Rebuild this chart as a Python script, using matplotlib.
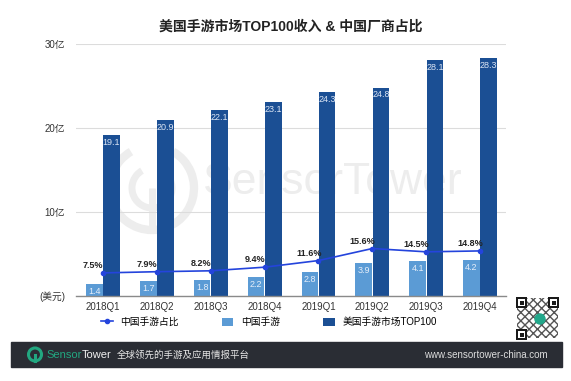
import numpy as np
import matplotlib

matplotlib.use("Agg")
import matplotlib.pyplot as plt
from matplotlib.patches import Rectangle, Circle, Arc
from matplotlib.text import Annotation

plt.rcParams["font.family"] = ["Liberation Sans", "Noto Sans CJK SC"]

quarters = ["2018Q1", "2018Q2", "2018Q3", "2018Q4", "2019Q1", "2019Q2", "2019Q3", "2019Q4"]
china_rev = [1.4, 1.7, 1.8, 2.2, 2.8, 3.9, 4.1, 4.2]
us_top100 = [19.1, 20.9, 22.1, 23.1, 24.3, 24.8, 28.1, 28.3]
china_share = [7.5, 7.9, 8.2, 9.4, 11.6, 15.6, 14.5, 14.8]
y_ticks = [0, 10, 20, 30]
y_labels = ["(美元)", "10亿", "20亿", "30亿"]

DARK = "#1b4f94"
LIGHT = "#5b9bd5"
LINE = "#2444dc"
W, H = 571, 381

fig = plt.figure(figsize=(W / 100, H / 100), dpi=100)

# background layer in pixel coordinates: watermark, footer, qr
bg = fig.add_axes([0, 0, 1, 1], zorder=0)
bg.set_xlim(0, W)
bg.set_ylim(H, 0)
bg.axis("off")
wm = "#ededed"
bg.add_patch(Arc((152, 188), 84, 84, theta1=-60, theta2=240, lw=6, color=wm))
bg.add_patch(Arc((152, 188), 40, 40, theta1=-60, theta2=240, lw=5, color=wm))
bg.plot([152, 152], [188, 232], color=wm, lw=5, solid_capstyle="butt")
bg.text(333, 183, "SensorTower", fontsize=32, color=wm, ha="center", va="center")

bg.add_patch(Rectangle((11, 342), 551, 25, color="#2a2d34"))
bg.add_patch(Circle((35, 354.5), 6.5, fill=False, lw=2.2, color="#22a780"))
bg.plot([35, 35], [354.5, 361], color="#22a780", lw=2.2)

# qr code block
bg.add_patch(Rectangle((515, 296), 45, 44, facecolor="white", edgecolor="none"))
bg.add_patch(Rectangle((517, 298), 41, 40, facecolor="none", edgecolor="#555555",
                       hatch="xxxx", lw=0))
for fx, fy in [(516, 297), (548, 297), (516, 329)]:
    bg.add_patch(Rectangle((fx, fy), 11, 11, facecolor="#1a1a1a"))
    bg.add_patch(Rectangle((fx + 2, fy + 2), 7, 7, facecolor="white"))
    bg.add_patch(Rectangle((fx + 3.5, fy + 3.5), 4, 4, facecolor="#1a1a1a"))
bg.add_patch(Circle((540, 319), 5, color="#22a78a"))

# footer texts, chained so they never collide
t_sensor = fig.text(46 / W, 1 - 354.5 / H, "Sensor", color="#22a780", fontsize=8, va="center")
t_tower = Annotation("Tower", xy=(1, 0.5), xycoords=t_sensor, va="center", ha="left",
                     color="#f0f0f0", fontsize=8)
fig.add_artist(t_tower)
fig.add_artist(Annotation("全球领先的手游及应用情报平台", xy=(1, 0.5), xycoords=t_tower,
                          xytext=(4, 0), textcoords="offset points", va="center",
                          ha="left", color="#e6e6e6", fontsize=6.8))
fig.text(548 / W, 1 - 354.5 / H, "www.sensortower-china.com", color="#dddddd",
         fontsize=7, va="center", ha="right")

# main chart
ax = fig.add_axes([76 / W, 1 - 295.5 / H, 430 / W, 251.5 / H], zorder=1)
ax.set_facecolor("none")
x = np.arange(len(quarters))
bw = 0.31
b1 = ax.bar(x - bw / 2 - 0.005, china_rev, bw, color=LIGHT, zorder=2, label="中国手游")
b2 = ax.bar(x + bw / 2 + 0.005, us_top100, bw, color=DARK, zorder=2, label="美国手游市场TOP100")
for rect, v in zip(b1, china_rev):
    ax.annotate(f"{v}", (rect.get_x() + rect.get_width() / 2, v), xytext=(0, -2),
                textcoords="offset points", ha="center", va="top", fontsize=6.5,
                color="#e6eef9", zorder=3)
for rect, v in zip(b2, us_top100):
    ax.annotate(f"{v}", (rect.get_x() + rect.get_width() / 2, v), xytext=(0, -2),
                textcoords="offset points", ha="center", va="top", fontsize=6.5,
                color="#dbe5f4", zorder=3)

ax.set_xlim(-0.5, len(quarters) - 0.52)
ax.set_ylim(0, 30)
ax.set_yticks(y_ticks)
ax.set_yticklabels(y_labels)
ax.set_xticks(x)
ax.set_xticklabels(quarters)
ax.tick_params(axis="both", length=0, labelsize=7, labelcolor="#333333")
ax.tick_params(axis="x", pad=5)
ax.tick_params(axis="y", pad=8)
ax.grid(axis="y", color="#dcdcdc", lw=0.8)
ax.set_axisbelow(True)
for s in ["top", "right", "left"]:
    ax.spines[s].set_visible(False)
ax.spines["bottom"].set_color("#8a8a8a")
ax.spines["bottom"].set_linewidth(1)

ax2 = ax.twinx()
ax2.set_ylim(0, 83.5)
ax2.axis("off")
ln, = ax2.plot(x, china_share, color=LINE, lw=1.2, marker="o", ms=3, zorder=4,
               label="中国手游占比")
for xi, v in zip(x, china_share):
    ax2.annotate(f"{v}%", (xi, v), xytext=(-7, 2), textcoords="offset points",
                 ha="center", va="bottom", fontsize=6.5, fontweight="bold", color="#222222")

fig.text(291 / W, 1 - 27 / H, "美国手游市场TOP100收入 & 中国厂商占比", ha="center",
         va="center", fontsize=10, fontweight="bold", color="#222222")

fig.legend(handles=[ln, b1, b2], loc="center left", bbox_to_anchor=(101 / W, 1 - 322 / H),
           ncol=3, frameon=False, fontsize=7, handlelength=1.2, handleheight=0.9,
           handletextpad=0.8, columnspacing=4.4, borderpad=0, borderaxespad=0)

fig.savefig("out.png", dpi=100)
